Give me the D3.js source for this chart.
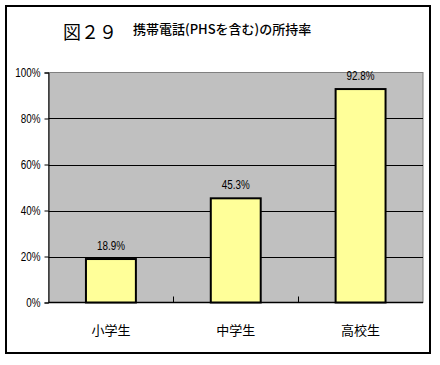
<!DOCTYPE html>
<html><head><meta charset="utf-8">
<script src="https://cdn.jsdelivr.net/npm/d3@7"></script>
<style>body{margin:0;background:#fff}svg{display:block}</style>
</head><body>
<script>
const categories = ["小学生", "中学生", "高校生"];
const values = [18.9, 45.3, 92.8];
const yTicks = [0, 20, 40, 60, 80, 100];
const figLabel = "図２９";
const titleText = "携帯電話(PHSを含む)の所持率";

const W = 440, H = 365;
const svg = d3.select("body").append("svg").attr("width", W).attr("height", H);
svg.append("rect").attr("x", 6).attr("y", 6).attr("width", 424).attr("height", 347)
  .attr("fill", "#fff").attr("stroke", "#000").attr("stroke-width", 2);

const m = {l: 48.5, r: 423, t: 72.5, b: 302.5};
const x = d3.scaleBand().domain(categories).range([m.l, m.r]).paddingInner(0.6).paddingOuter(0.3);
const y = d3.scaleLinear().domain([0, 100]).range([m.b, m.t]);

svg.append("rect").attr("x", m.l).attr("y", m.t).attr("width", m.r - m.l).attr("height", m.b - m.t)
  .attr("fill", "#c0c0c0").attr("stroke", "#808080").attr("stroke-width", 1);

const font = "'Liberation Sans', Arial, sans-serif";
const sx = 0.76;
// gridlines
svg.append("g").selectAll("line").data(yTicks.filter(d => d > 0 && d < 100)).join("line")
  .attr("x1", m.l).attr("x2", m.r).attr("y1", d => Math.round(y(d)) + 0.5).attr("y2", d => Math.round(y(d)) + 0.5)
  .attr("stroke", "#000").attr("stroke-width", 1);

// y axis
const yAxis = d3.axisLeft(y).tickValues(yTicks).tickFormat(d => d + "%").tickSize(4).tickPadding(4);
const gy = svg.append("g").attr("transform", `translate(${m.l},0)`).call(yAxis);
gy.select(".domain").attr("stroke", "#000");
gy.selectAll(".tick line").attr("stroke", "#000");
gy.selectAll("text").attr("font-family", font).attr("font-size", 13).attr("fill", "#000")
  .attr("x", null).attr("transform", `translate(-8,0) scale(${sx},1)`);

// x axis with inward ticks at category boundaries
const gx = svg.append("g").attr("transform", `translate(0,${m.b})`);
gx.append("line").attr("x1", m.l).attr("x2", m.r).attr("y1", 0).attr("y2", 0).attr("stroke", "#000").attr("stroke-width", 1.5);
const gap = (x.step() - x.bandwidth()) / 2;
gx.selectAll("line.tk").data(categories.slice(1)).join("line").attr("class", "tk")
  .attr("x1", c => Math.round(x(c) - gap) + 0.5).attr("x2", c => Math.round(x(c) - gap) + 0.5)
  .attr("y1", 0).attr("y2", -6).attr("stroke", "#000");
gx.selectAll("text").data(categories).join("text")
  .attr("x", c => x(c) + x.bandwidth() / 2).attr("y", 32)
  .attr("text-anchor", "middle").attr("font-family", "'Noto Sans CJK JP', sans-serif").attr("font-size", 13)
  .text(d => d);

// bars
svg.append("g").selectAll("rect").data(values).join("rect")
  .attr("x", (d, i) => x(categories[i])).attr("width", x.bandwidth())
  .attr("y", d => y(d)).attr("height", d => y(0) - y(d))
  .attr("fill", "#ffff99").attr("stroke", "#000").attr("stroke-width", 2);

// value labels
svg.append("g").selectAll("text").data(values).join("text")
  .attr("transform", (d, i) => `translate(${x(categories[i]) + x.bandwidth() / 2},${y(d) - 9}) scale(${sx},1)`)
  .attr("text-anchor", "middle").attr("font-family", font).attr("font-size", 13).attr("fill", "#000")
  .text(d => d.toFixed(1) + "%");

// titles
svg.append("text").attr("x", 63).attr("y", 39).attr("font-family", "'Noto Sans CJK JP', sans-serif")
  .attr("font-size", 18).text(figLabel);
svg.append("text").attr("x", 133).attr("y", 34).attr("font-family", "'Noto Sans CJK JP', sans-serif")
  .attr("font-size", 13).attr("font-weight", 500).text(titleText);
</script>
</body></html>
